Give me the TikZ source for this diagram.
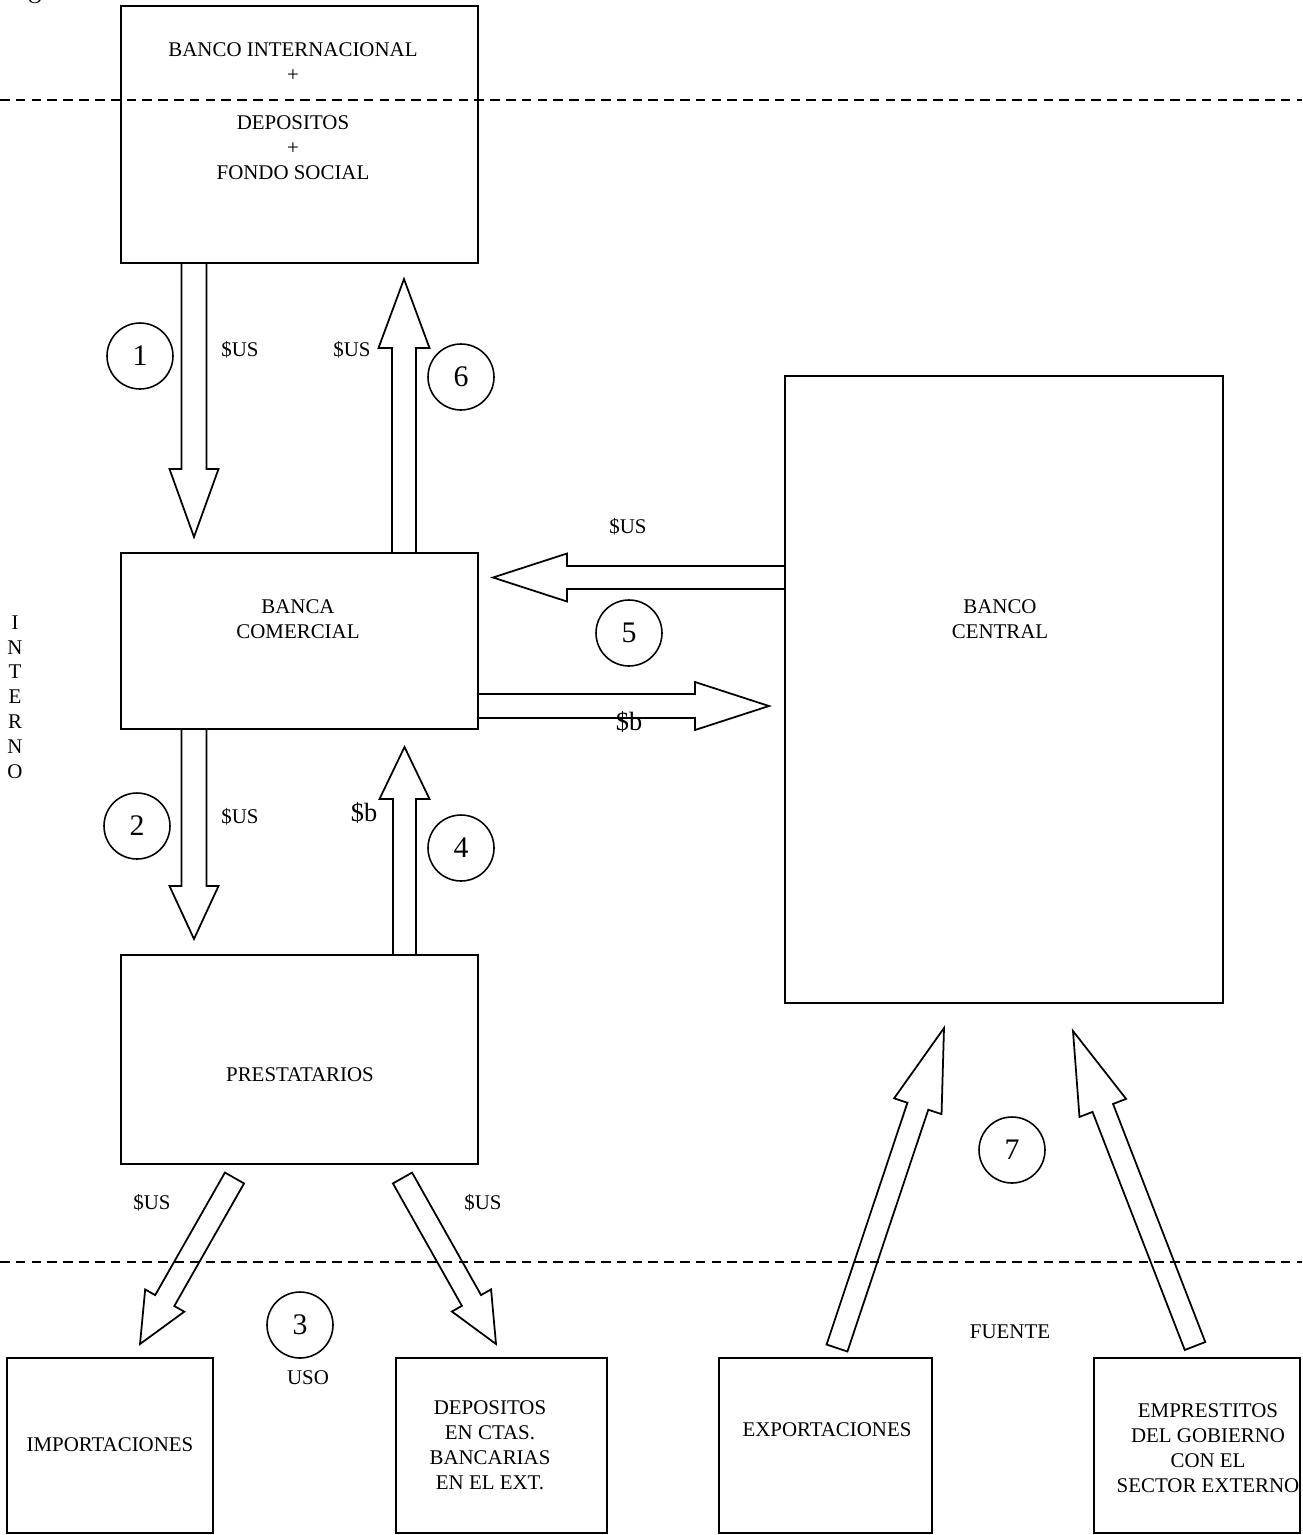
\documentclass[tikz,border=0pt]{standalone}
\usepackage{fontspec}
\setmainfont{Liberation Serif}
\usetikzlibrary{calc}
\tikzset{
  box/.style={draw,line width=1pt,inner sep=0,outer sep=0},
  txt/.style={align=center,inner sep=0,font=\fontsize{11.9}{14.2}\selectfont},
  big/.style={inner sep=0,font=\fontsize{15}{18}\selectfont},
  num/.style={draw,circle,line width=0.9pt,minimum size=1.32cm,inner sep=0,font=\fontsize{17}{20}\selectfont},
  flow/.style={draw,line width=1pt,line join=miter},
  border/.style={line width=0.9pt,dash pattern=on 5.5pt off 3.5pt}
}
% tail, tip, half shaft, half head, head length
\newcommand{\fatarrow}[5]{%
  \path ($(#2)!#5!(#1)$) coordinate (hb);
  \draw[flow] ($(#1)!#3!90:(#2)$) -- ($(hb)!#3!90:(#2)$) -- ($(hb)!#4!90:(#2)$) -- (#2)
    -- ($(hb)!#4!-90:(#2)$) -- ($(hb)!#3!-90:(#2)$) -- ($(#1)!#3!-90:(#2)$) -- cycle;
}

\begin{document}
\begin{tikzpicture}[x=0.02cm,y=-0.02cm]
  \useasboundingbox (0,0) rectangle (1302,1535);

  \draw[border] (0,100) -- (1302,100);
  \draw[border] (0,1262) -- (1302,1262);

  \node[txt] (ext) at (35,-3) {O};
  \node[txt,font=\fontsize{11.9}{14.1}\selectfont] (int) at (15,697) {I\\N\\T\\E\\R\\N\\O};

  \node[box,minimum width=7.14cm,minimum height=5.14cm] (intl) at (299.5,134.5) {};
  \node[txt] (intltxt) at (293,62) {BANCO INTERNACIONAL\\+};
  \node[txt] (fondo) at (293,148) {DEPOSITOS\\+\\FONDO SOCIAL};

  \node[box,minimum width=7.14cm,minimum height=3.52cm] (banca) at (299.5,641) {};
  \node[txt] (bancatxt) at (298,619.5) {BANCA\\COMERCIAL};

  \node[box,minimum width=8.76cm,minimum height=12.54cm] (central) at (1004,689.5) {};
  \node[txt] (centraltxt) at (1000,619.5) {BANCO\\CENTRAL};

  \node[box,minimum width=7.14cm,minimum height=4.18cm] (prest) at (299.5,1059.5) {};
  \node[txt] (presttxt) at (300,1075) {PRESTATARIOS};

  \node[box,minimum width=4.12cm,minimum height=3.5cm] (imp) at (110,1445.5) {};
  \node[txt] (imptxt) at (110,1445) {IMPORTACIONES};
  \node[box,minimum width=4.22cm,minimum height=3.5cm] (dep) at (501.5,1445.5) {};
  \node[txt] (deptxt) at (490,1445) {DEPOSITOS\\EN CTAS.\\BANCARIAS\\EN EL EXT.};
  \node[box,minimum width=4.26cm,minimum height=3.5cm] (expo) at (825.5,1445.5) {};
  \node[txt] (expotxt) at (827,1430) {EXPORTACIONES};
  \node[box,minimum width=4.12cm,minimum height=3.5cm] (emp) at (1197,1445.5) {};
  \node[txt] (emptxt) at (1208,1448) {EMPRESTITOS\\DEL GOBIERNO\\CON EL\\SECTOR EXTERNO};

  \coordinate (t1) at (194,263);    \coordinate (h1) at (194,537);
  \coordinate (t6) at (404,553);    \coordinate (h6) at (404,279);
  \coordinate (t5) at (785,577.5);  \coordinate (h5) at (493,577.5);
  \coordinate (tb) at (478,706);    \coordinate (hbs) at (769,706);
  \coordinate (t2) at (194,729);    \coordinate (h2) at (194,939);
  \coordinate (t4) at (404.5,955);  \coordinate (h4) at (404.5,747);
  \coordinate (ti) at (234.5,1178); \coordinate (hi) at (140,1344);
  \coordinate (td) at (402.5,1178); \coordinate (hd) at (496,1344);
  \coordinate (te) at (837,1348);   \coordinate (he) at (944,1028);
  \coordinate (tg) at (1195,1346);  \coordinate (hg) at (1073,1031);

  \fatarrow{t1}{h1}{0.25cm}{0.49cm}{1.36cm}
  \fatarrow{t6}{h6}{0.24cm}{0.51cm}{1.38cm}
  \fatarrow{t5}{h5}{0.23cm}{0.48cm}{1.48cm}
  \fatarrow{tb}{hbs}{0.24cm}{0.48cm}{1.48cm}
  \fatarrow{t2}{h2}{0.25cm}{0.49cm}{1.06cm}
  \fatarrow{t4}{h4}{0.23cm}{0.5cm}{1.04cm}
  \fatarrow{ti}{hi}{0.22cm}{0.45cm}{1.0cm}
  \fatarrow{td}{hd}{0.22cm}{0.45cm}{1.0cm}
  \fatarrow{te}{he}{0.22cm}{0.5cm}{1.65cm}
  \fatarrow{tg}{hg}{0.22cm}{0.5cm}{1.65cm}

  \node[txt] (us1) at (240,350) {\$US};
  \node[txt] (us6) at (352,350) {\$US};
  \node[txt] (us5) at (628,527) {\$US};
  \node[big] (b5) at (629,722) {\$b};
  \node[txt] (us2) at (240,817) {\$US};
  \node[big] (b4) at (364,813) {\$b};
  \node[txt] (usi) at (152,1203) {\$US};
  \node[txt] (usd) at (483,1203) {\$US};
  \node[txt] (uso) at (308,1378) {USO};
  \node[txt] (fuente) at (1010,1332) {FUENTE};

  \node[num] (n1) at (140,356) {1};
  \node[num] (n2) at (137,826) {2};
  \node[num] (n3) at (300,1325) {3};
  \node[num] (n4) at (461,848) {4};
  \node[num] (n5) at (629,633) {5};
  \node[num] (n6) at (461,377) {6};
  \node[num] (n7) at (1012,1150) {7};
\end{tikzpicture}
\end{document}
